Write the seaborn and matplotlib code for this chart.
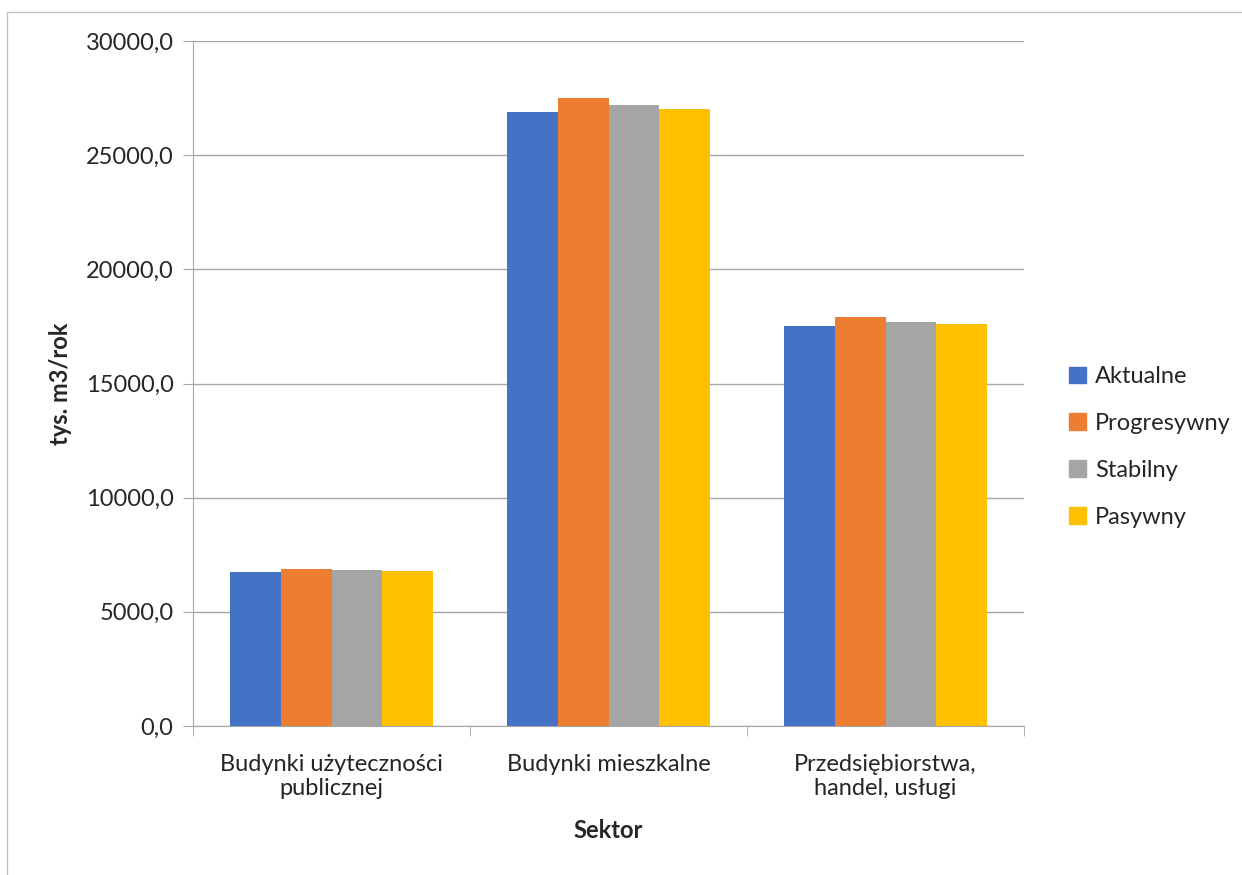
import pandas as pd
import matplotlib.pyplot as plt
import matplotlib.patches as mpatches
import seaborn as sns

sektory = ['Budynki użyteczności\npublicznej', 'Budynki mieszkalne', 'Przedsiębiorstwa,\nhandel, usługi']
scenariusze = ['Aktualne', 'Progresywny', 'Stabilny', 'Pasywny']
aktualne = [6760, 26905, 17515]
progresywny = [6890, 27490, 17910]
stabilny = [6830, 27215, 17705]
pasywny = [6790, 27040, 17585]
kolory = ['#4472C4', '#ED7D31', '#A5A5A5', '#FFC000']

rows = []
for nazwa, vals in zip(scenariusze, [aktualne, progresywny, stabilny, pasywny]):
    for s, v in zip(sektory, vals):
        rows.append({'Sektor': s, 'Scenariusz': nazwa, 'val': v})
data = pd.DataFrame(rows)

sns.set_style('white')
plt.rcParams['font.family'] = ['Lato', 'DejaVu Sans']

fig = plt.figure(figsize=(12.42, 8.75), dpi=100)
ax = fig.add_axes([193 / 1242, 1 - 726 / 875, (1024 - 193) / 1242, (726 - 41) / 875])

sns.barplot(data=data, x='Sektor', y='val', hue='Scenariusz', palette=kolory,
            width=0.73, saturation=1, linewidth=0, ax=ax, legend=False)

ax.set_ylim(0, 30000)
ax.set_xlim(-0.5, 2.5)
ax.set_yticks(range(0, 30001, 5000))
ax.set_yticklabels([f'{v},0' for v in range(0, 30001, 5000)], fontsize=17)
ax.yaxis.grid(True, color='#A6A6A6', linewidth=1)
ax.set_axisbelow(True)
for sp in ['top', 'right']:
    ax.spines[sp].set_visible(False)
for sp in ['left', 'bottom']:
    ax.spines[sp].set_color('#A6A6A6')
ax.tick_params(axis='y', length=7, color='#A6A6A6', left=True, pad=7)
ax.tick_params(axis='x', length=0, labelsize=17, pad=20)
ax.set_xticks([0, 1, 2])
ax.set_xticklabels(sektory)
# separators between categories on the x axis
ax.set_xticks([-0.5, 0.5, 1.5, 2.5], minor=True)
ax.tick_params(axis='x', which='minor', length=7, color='#A6A6A6', bottom=True)

ax.set_xlabel('Sektor', fontsize=17, fontweight='bold', labelpad=14)
ax.set_ylabel('tys. m3/rok', fontsize=17, fontweight='bold', labelpad=10)

handles = [mpatches.Patch(color=c, label=n) for c, n in zip(kolory, scenariusze)]
fig.legend(handles=handles, loc='center left', bbox_to_anchor=(1048 / 1242, 1 - 447 / 875),
           frameon=False, fontsize=17, handlelength=0.7, handleheight=0.7,
           handletextpad=0.4, labelspacing=1.1)

fig.patches.append(mpatches.Rectangle((7 / 1242, -0.05), 1.05, 1.05 - 12 / 875, transform=fig.transFigure,
                                      fill=False, edgecolor='#BFBFBF', linewidth=1))

fig.savefig('out.png', dpi=100)
